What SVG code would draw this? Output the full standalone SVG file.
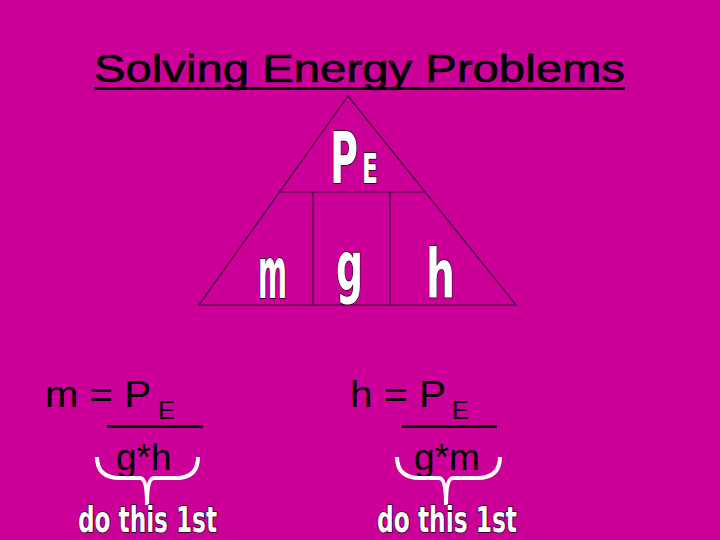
<svg xmlns="http://www.w3.org/2000/svg" width="720" height="540" viewBox="0 0 720 540">
<style>
.t{font-family:"Liberation Sans",Arial,sans-serif;fill:#000}
.o{font-family:"DejaVu Sans Condensed","DejaVu Sans",sans-serif;font-weight:bold;fill:#fff;stroke:#000;stroke-width:1.5;paint-order:stroke}
.ln{stroke:#3a0030;stroke-width:1.2;fill:none}
.br{stroke:#fff;stroke-width:4;fill:none}
</style>
<rect width="720" height="540" fill="#CC0099"/>
<g id="title">
<text class="t" x="94" y="82" font-size="38" stroke="#000" stroke-width="0.6" textLength="531" lengthAdjust="spacingAndGlyphs">Solving Energy Problems</text>
<rect x="94" y="87" width="531" height="3" fill="#000"/>
</g>
<g id="triangle">
<path class="ln" d="M348 96 L199 305 L516 305 Z M281 192 H426 M313 192 V305 M390 192 V305"/>
<text class="o" x="330" y="183" font-size="72" textLength="28" lengthAdjust="spacingAndGlyphs">P</text>
<text class="o" x="362" y="183" font-size="41" textLength="16" lengthAdjust="spacingAndGlyphs">E</text>
<text class="o" x="258" y="298" font-size="72" textLength="29" lengthAdjust="spacingAndGlyphs">m</text>
<text class="o" x="336" y="290" font-size="68" textLength="27" lengthAdjust="spacingAndGlyphs">g</text>
<text class="o" x="426" y="298" font-size="68" textLength="29" lengthAdjust="spacingAndGlyphs">h</text>
</g>
<g id="formula-left">
<text class="t" x="45" y="407" font-size="37" textLength="106" lengthAdjust="spacingAndGlyphs">m = P</text>
<text class="t" x="158" y="419" font-size="25">E</text>
<rect x="107" y="425" width="96" height="3" fill="#000"/>
<text class="t" x="116" y="470" font-size="37">g*h</text>
<path class="br" d="M97 457 Q97 478 120 478 H140 Q147 478 147 505 Q147 478 154 478 H176 Q198 478 198 457"/>
<text class="o" x="78" y="532" font-size="35" textLength="139" lengthAdjust="spacingAndGlyphs">do this 1st</text>
</g>
<g id="formula-right">
<text class="t" x="350" y="407" font-size="37" textLength="96" lengthAdjust="spacingAndGlyphs">h = P</text>
<text class="t" x="452" y="419" font-size="25">E</text>
<rect x="402" y="425" width="95" height="3" fill="#000"/>
<text class="t" x="414" y="470" font-size="37">g*m</text>
<path class="br" d="M397 457 Q397 478 420 478 H439 Q446 478 446 505 Q446 478 453 478 H477 Q500 478 500 457"/>
<text class="o" x="377" y="532" font-size="35" textLength="140" lengthAdjust="spacingAndGlyphs">do this 1st</text>
</g>
</svg>
